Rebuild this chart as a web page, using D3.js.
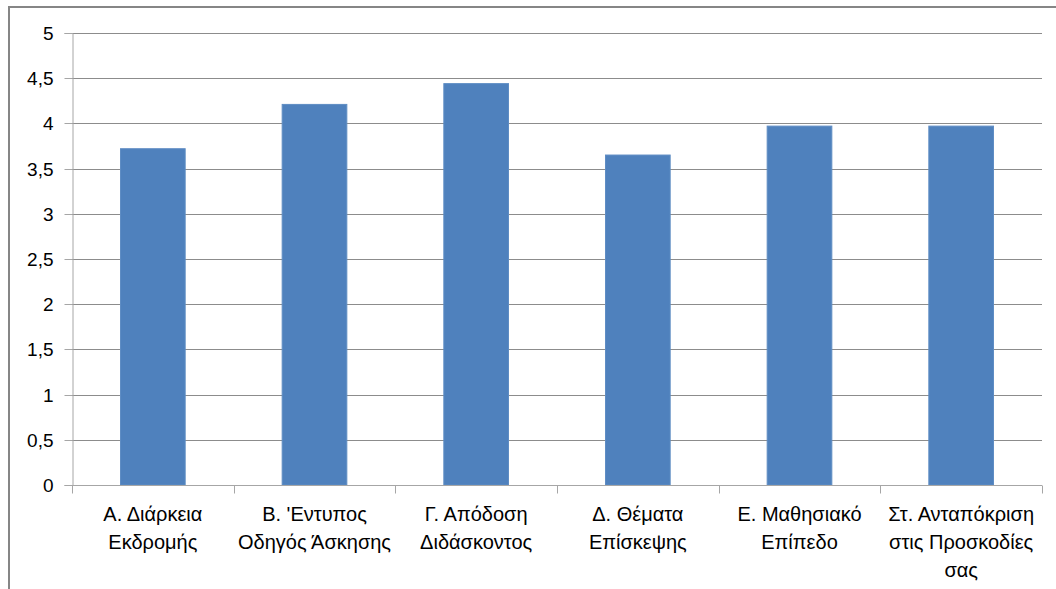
<!DOCTYPE html>
<html><head><meta charset="utf-8">
<script src="https://cdn.jsdelivr.net/npm/d3@7"></script>
<style>html,body{margin:0;padding:0;background:#fff;overflow:hidden}</style>
</head><body><svg id="c" width="1056" height="589"></svg>
<script>
const categories = ["Α. Διάρκεια\nΕκδρομής", "Β. 'Εντυπος\nΟδηγός Άσκησης", "Γ. Απόδοση\nΔιδάσκοντος", "Δ. Θέματα\nΕπίσκεψης", "Ε. Μαθησιακό\nΕπίπεδο", "Στ. Ανταπόκριση\nστις Προσκοδίες\nσας"];
const values = [3.72, 4.21, 4.44, 3.65, 3.97, 3.97];
const yTicks = [0, 0.5, 1, 1.5, 2, 2.5, 3, 3.5, 4, 4.5, 5];
const yTickLabels = ["0", "0,5", "1", "1,5", "2", "2,5", "3", "3,5", "4", "4,5", "5"];

(function () {
const svg = d3.select("#c");
const font = "'Liberation Sans', Arial, sans-serif";
const mL = 72, mR = 1042, mT = 33, mB = 485;

svg.append("rect").attr("x", 9).attr("y", 7).attr("width", 1100).attr("height", 700)
  .attr("fill", "#fff").attr("stroke", "#868686").attr("stroke-width", 2);

const x = d3.scaleBand().domain(categories).range([mL, mR]).paddingInner(0.6).paddingOuter(0.3);
const xb = d3.scaleBand().domain(categories).range([mL, mR]);
const y = d3.scaleLinear().domain([0, 5]).range([mB, mT]);

svg.append("g").selectAll("line").data(yTicks.filter(d => d > 0)).join("line")
  .attr("x1", mL).attr("x2", mR).attr("y1", d => Math.round(y(d)) + 0.5).attr("y2", d => Math.round(y(d)) + 0.5)
  .attr("stroke", "#8c8c8c").attr("stroke-width", 1);

const yAxis = svg.append("g").attr("transform", `translate(${mL + 0.5},0)`)
  .call(d3.axisLeft(y).tickValues(yTicks).tickFormat((d, i) => yTickLabels[i]).tickSize(8).tickPadding(11));
yAxis.select(".domain").attr("stroke", "#a6a6a6");
yAxis.selectAll(".tick line").attr("stroke", "#a6a6a6");
yAxis.selectAll(".tick").attr("transform", d => `translate(0,${Math.round(y(d)) + 0.5})`);
yAxis.selectAll("text").attr("font-family", font).attr("font-size", 19).attr("fill", "#000");

svg.append("g").selectAll("rect").data(values).join("rect")
  .attr("x", (d, i) => x(categories[i]))
  .attr("y", d => y(d))
  .attr("width", x.bandwidth())
  .attr("height", d => y(0) - y(d))
  .attr("fill", "#4f81bd").attr("stroke", "#5f8dc4").attr("stroke-width", 1);

const xg = svg.append("g").attr("transform", `translate(0,${mB + 0.5})`);
xg.append("line").attr("x1", mL).attr("x2", mR).attr("stroke", "#a6a6a6");
const edges = categories.map(c => xb(c)).concat([mR]);
xg.selectAll("line.t").data(edges).join("line").attr("class", "t")
  .attr("x1", d => Math.round(d) + 0.5).attr("x2", d => Math.round(d) + 0.5).attr("y1", 0).attr("y2", 8)
  .attr("stroke", "#a6a6a6");
const lbl = xg.selectAll("text").data(categories).join("text")
  .attr("text-anchor", "middle").attr("font-family", font).attr("font-size", 20).attr("fill", "#000")
  .attr("transform", d => `translate(${xb(d) + xb.bandwidth() / 2},0)`);
lbl.selectAll("tspan").data(d => d.split("\n")).join("tspan")
  .attr("x", 0).attr("y", (d, i) => 35 + i * 28).text(d => d);
})();
</script></body></html>
